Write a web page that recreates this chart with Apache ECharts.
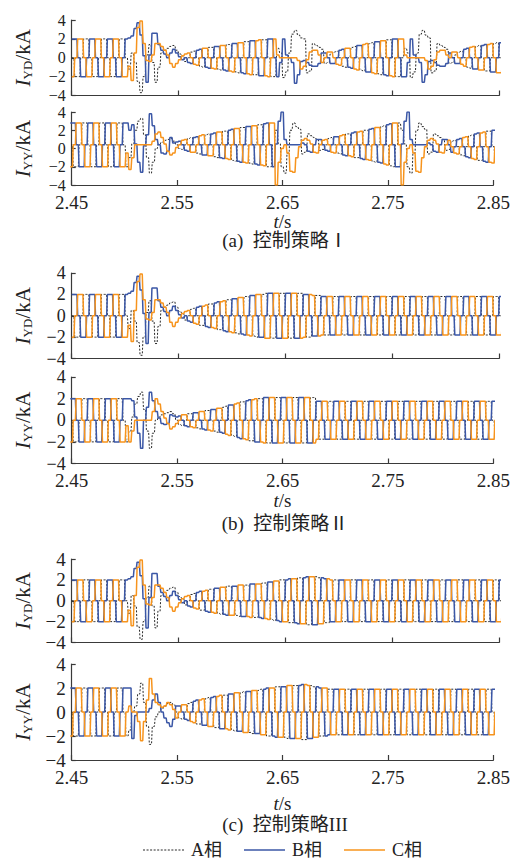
<!DOCTYPE html>
<html><head><meta charset="utf-8">
<script src="https://cdn.jsdelivr.net/npm/echarts/dist/echarts.min.js"></script>
<style>html,body{margin:0;padding:0;background:#fff}#c{width:513px;height:862px}</style>
</head><body><div id="c"></div>
<script>
const X_TICKS = ['2.45','2.55','2.65','2.75','2.85'];
const T_START = 2.45;
const SEG = 1/360;           // one 60-degree commutation interval at 60 Hz
const T0_YD = 2.4497, T0_YY = 2.4483;
const CAPTIONS = ['(a)  控制策略Ⅰ','(b)  控制策略Ⅱ','(c)  控制策略III'];
const PHASES = ['A相','B相','C相'];

// ---- (a) strategy I, Y/D valve-side currents (kA), one value per 60-degree interval ----
const a1_A=[0,-2,-2,0,2,2, 0,-2,-2,0,2,2, 0,-2,-2,0,2,2, 0,-1.2,0.5,-0.5,-2.5,-3.7, -2.0,0.3,1.4,-0.5,-2.6,-1.0, 0.5,0.8,1.0,1.2,1.3,0.8,
0.4,0.2,-0.4,0,0.6,0.7, 0,-0.9,-1,0,1.1,1.1, 0,-1.2,-1.3,0,1.4,1.4, 0,-1.5,-1.6,0,1.7,1.7, 0,-1.8,-1.8,0,1.9,1.9, 0,-2,-2,1.0,0.5,-2.1,
-1.5,0.5,2.5,2.9,2.4,2.1, 2.0,-1.6,-1.4,1.5,1.3,1.1, 0.9,-0.6,-0.5,0.4,0.6,0.7, 0,-0.9,-1,0,1.1,1.2, 0,-1.3,-1.4,0,1.5,1.6, 0,-1.7,-1.8,0,1.9,1.9,
0,-2,-2,0,1.0,0.5, -2.1,-1.5,0.5,2.5,2.9,2.4, 2.1,-1.6,-1.4,1.5,1.3,1.1, 0.9,-0.6,-0.5,0.3,0.6,0.7, 0,-1,-1.1,0,1.2,1.3, 0,-1.4,-1.4,0,1.5,1.6, 0,-1.6];
const a1_B=[2,2,0,-2,-2,0, 2,2,0,-2,-2,0, 2,2,0,-2,-2,0, 2,2.1,2.3,3.1,3.7,2.4, 0.2,-2.6,0.3,2.6,2.6,1.4, 0.8,0.4,0,0.5,0.9,0.5,
0.1,-0.2,0,-0.5,-0.6,0, 0.8,0.9,0,-1,-1.1,0, 1.2,1.2,0,-1.3,-1.4,0, 1.5,1.5,0,-1.6,-1.7,0, 1.8,1.8,0,-1.9,-1.9,0, 2,2,0,-2,-0.5,2.0,
0.3,0,-0.5,-2.7,-1.8,-0.4, -0.3,-0.5,-0.8,-0.9,-0.9,-0.6, 0.5,0.5,0,-0.6,-0.6,0, 0.8,0.9,0,-1,-1.1,0, 1.3,1.3,0,-1.5,-1.5,0, 1.7,1.7,0,-1.8,-1.9,0,
2,2,0,-2,-2.0,-0.5, 2.0,0.3,0,-0.5,-2.6,-1.8, -0.4,-0.3,-0.5,-0.8,-0.9,-0.9, -0.6,0.5,0,-0.6,-0.6,0, 0.9,1,0,-1.2,-1.2,0, 1.3,1.4,0,-1.5,-1.5,0, 1.6,1.6];
const a1_C=[-2,0,2,2,0,-2, -2,0,2,2,0,-2, -2,0,2,2,0,-2, -2,-0.9,-2.4,0.5,3.2,3.9, 1.5,-0.3,-0.4,0.3,1.5,1.5, 1.2,0.8,0.3,-0.6,-1.0,-0.6,
-0.2,0.2,0.4,0.5,0,-0.7, -0.8,0,1,1,0,-1.1, -1.2,0,1.3,1.3,0,-1.4, -1.5,0,1.6,1.6,0,-1.7, -1.8,0,1.8,1.9,0,-1.9, -2,0,2,0.3,0,0,
0,0,0,0,-0.3,-1.2, -0.9,-0.2,0.6,0.8,0.8,0.3, -0.5,0,0.6,0.6,0,-0.7, -0.8,0,1,1,0,-1.2, -1.3,0,1.4,1.5,0,-1.6, -1.7,0,1.8,1.8,0,-1.9,
-2,0,2,2,0.3,0, 0,0,0,0,0,-0.3, -1.2,-0.9,-0.2,0.6,0.8,0.8, 0.3,0,0.6,0.6,0,-0.7, -0.9,0,1.1,1.2,0,-1.3, -1.3,0,1.4,1.5,0,-1.6, -1.6,0];
// ---- (a) strategy I, Y/Y ----
const a2_A=[0.4,-2,-2,0.4,2.8,2.8, 0.4,-2,-2,0.4,2.8,2.8, 0.4,-2,-2,0.4,2.8,2.8, 0.4,-2.0,-1.0,0.5,2.0,3.0, 3.3,1.5,-1.0,-2.7,-1.5,0, 0.5,0.7,0.9,1.0,1.1,0.8,
0.4,0,-0.1,0.4,1.1,1.2, 0.4,-0.5,-0.6,0.4,1.5,1.6, 0.4,-0.9,-1.0,0.4,1.9,1.9, 0.4,-1.3,-1.4,0.4,2.3,2.3, 0.4,-1.6,-1.7,0.4,2.6,2.6, 0.4,-2.0,-2.0,0.4,2.0,0.5,
-2.0,-2.7,-0.5,2.0,2.8,2.4, 2.1,-0.6,-0.4,1.6,1.4,1.2, 1.0,-0.2,-0.1,0.4,1.1,1.2, 0.4,-0.5,-0.6,0.4,1.6,1.6, 0.4,-1.0,-1.0,0.4,2.0,2.0, 0.4,-1.4,-1.5,0.4,2.4,2.5,
0.4,-1.9,-2.0,0.4,2.8,2.0, 0.5,-2.0,-2.7,-0.5,2.0,2.8, 2.4,2.1,-0.6,-0.4,1.6,1.4, 1.2,1.0,-0.2,-0.1,0.8,0.9, 0.2,-0.7,-0.8,0.2,1.4,1.5, 0.2,-1.3,-1.3,0.2,1.9,1.9, 0.2,-1.6];
const a2_B=[2.8,2.8,0.4,-2,-2,0.4, 2.8,2.8,0.4,-2,-2,0.4, 2.8,2.8,0.4,-2,-2,0.4, 2.8,2.8,2.0,2.6,0.5,-1.5, -2.6,0.3,1.5,3.8,2.5,1.0, 0.4,-0.5,-0.6,-0.3,1.2,0.6,
0.7,0.8,0.4,-0.2,-0.3,0.4, 1.2,1.3,0.4,-0.7,-0.7,0.4, 1.6,1.7,0.4,-1.0,-1.1,0.4, 2.0,2.1,0.4,-1.4,-1.5,0.4, 2.4,2.4,0.4,-1.7,-1.8,0.4, 2.7,2.8,0.4,-2.0,0.5,3.0,
4.0,1.0,0.4,0.4,0.4,0.4, 0.4,0.6,0.4,-0.3,-0.4,0.4, 1.0,1.0,0.4,-0.2,-0.3,0.4, 1.3,1.3,0.4,-0.7,-0.8,0.4, 1.7,1.8,0.4,-1.1,-1.2,0.4, 2.1,2.2,0.4,-1.5,-1.6,0.4,
2.6,2.7,0.4,-2.0,-2.0,0.5, 3.0,4.0,1.0,0.4,0.4,0.4, 0.4,0.4,0.6,0.4,-0.3,-0.4, 0.4,1.0,1.0,0.4,-0.4,0.2, 1.0,1.1,0.2,-0.9,-1.0,0.2, 1.6,1.7,0.2,-1.4,-1.5,0.2, 2.0,2.0];
const a2_C=[-2,0.4,2.8,2.8,0.4,-2, -2,0.4,2.8,2.8,0.4,-2, -2,0.4,2.8,2.8,0.4,-2, -2,-0.5,-2.3,-1.0,0.4,0.4, 0.4,0.4,0.4,0.4,0.8,1.6, 1.8,1.2,0.5,-0.3,-0.7,-0.5,
0.1,0.4,0.9,1.0,0.4,-0.4, -0.4,0.4,1.4,1.5,0.4,-0.8, -0.8,0.4,1.8,1.8,0.4,-1.1, -1.2,0.4,2.2,2.2,0.4,-1.5, -1.6,0.4,2.5,2.5,0.4,-1.8, -1.9,0.4,2.8,2.8,-4.0,-1.5,
0.0,0.4,-0.5,-2.5,-2.6,-1.0, 0.2,0.9,1.1,0.9,0.5,-0.4, -0.5,0.4,0.9,1.0,0.4,-0.4, -0.5,0.4,1.4,1.5,0.4,-0.8, -0.9,0.4,1.8,1.9,0.4,-1.2, -1.3,0.4,2.3,2.3,0.4,-1.7,
-1.8,0.4,2.8,2.8,0.4,-4.0, -1.5,0.0,0.4,-0.5,-2.5,-2.6, -1.0,0.2,0.9,1.1,0.9,0.5, -0.4,-0.5,0.4,0.9,0.2,-0.5, -0.6,0.2,1.2,1.3,0.2,-1.1, -1.2,0.2,1.7,1.8,0.2,-1.5, -1.6,0.2];
// ---- (b) strategy II, Y/D ----
const b1_A=[0,-2,-2,0,2,2, 0,-2,-2,0,2,2, 0,-2,-2,0,2,2, 0,-1.2,0.5,-0.5,-2.5,-3.7, -2.0,0.3,1.4,-0.5,-2.6,-1.0, 0.5,0.8,1.0,1.2,1.3,0.8,
0.4,0.2,-0.4,0,0.6,0.7, 0,-0.9,-0.9,0,1.1,1.1, 0,-1.3,-1.3,0,1.5,1.5, 0,-1.6,-1.7,0,1.8,1.8, 0,-1.9,-2,0,2,2.1, 0,-2.1,-2.1,0,2.1,2.1,
0,-2.1,-2.1,0,2.1,2.1, 0,-2,-2,0,1.9,1.9, 0,-1.8,-1.8,0,1.8,1.8, 0,-1.8,-1.8,0,1.8,1.8, 0,-1.8,-1.8,0,1.8,1.8, 0,-1.8,-1.8,0,1.8,1.8,
0,-1.8,-1.8,0,1.8,1.8, 0,-1.8,-1.8,0,1.8,1.8, 0,-1.8,-1.8,0,1.8,1.8, 0,-1.8,-1.8,0,1.8,1.8, 0,-1.8,-1.8,0,1.8,1.8, 0,-1.8,-1.8,0,1.8,1.8, 0,-1.8];
const b1_B=[2,2,0,-2,-2,0, 2,2,0,-2,-2,0, 2,2,0,-2,-2,0, 2,2.1,2.3,3.1,3.7,2.4, 0.2,-2.6,0.3,2.6,2.6,1.4, 0.8,0.4,0,0.5,0.9,0.5,
0.1,-0.2,0,-0.5,-0.6,0, 0.8,0.9,0,-1.0,-1.1,0, 1.2,1.3,0,-1.4,-1.5,0, 1.6,1.6,0,-1.7,-1.8,0, 1.9,1.9,0,-2,-2,0, 2.1,2.1,0,-2.1,-2.1,0,
2.1,2.1,0,-2.1,-2.1,0, 2,2,0,-1.9,-1.9,0, 1.8,1.8,0,-1.8,-1.8,0, 1.8,1.8,0,-1.8,-1.8,0, 1.8,1.8,0,-1.8,-1.8,0, 1.8,1.8,0,-1.8,-1.8,0,
1.8,1.8,0,-1.8,-1.8,0, 1.8,1.8,0,-1.8,-1.8,0, 1.8,1.8,0,-1.8,-1.8,0, 1.8,1.8,0,-1.8,-1.8,0, 1.8,1.8,0,-1.8,-1.8,0, 1.8,1.8,0,-1.8,-1.8,0, 1.8,1.8];
const b1_C=[-2,0,2,2,0,-2, -2,0,2,2,0,-2, -2,0,2,2,0,-2, -2,-0.9,-2.4,0.5,3.2,3.9, 1.5,-0.3,-0.4,0.3,1.5,1.5, 1.2,0.8,0.3,-0.6,-1.0,-0.6,
-0.2,0.2,0.4,0.5,0,-0.7, -0.8,0,0.9,1.0,0,-1.1, -1.2,0,1.3,1.4,0,-1.5, -1.6,0,1.7,1.7,0,-1.8, -1.9,0,2,2,0,-2.1, -2.1,0,2.1,2.1,0,-2.1,
-2.1,0,2.1,2.1,0,-2.1, -2,0,2,1.9,0,-1.9, -1.8,0,1.8,1.8,0,-1.8, -1.8,0,1.8,1.8,0,-1.8, -1.8,0,1.8,1.8,0,-1.8, -1.8,0,1.8,1.8,0,-1.8,
-1.8,0,1.8,1.8,0,-1.8, -1.8,0,1.8,1.8,0,-1.8, -1.8,0,1.8,1.8,0,-1.8, -1.8,0,1.8,1.8,0,-1.8, -1.8,0,1.8,1.8,0,-1.8, -1.8,0,1.8,1.8,0,-1.8, -1.8,0];
// ---- (b) strategy II, Y/Y ----
const b2_A=[0,-2,-2,0,2,2, 0,-2,-2,0,2,2, 0,-2,-2,0,2,2, 0,-2.0,-1.0,0.3,1.5,2.2, 2.6,1.0,-1.0,-2.6,-1.2,0, 0.3,0.5,0.6,0.7,0.8,0.6,
0,-0.4,-0.5,0,0.6,0.6, 0,-0.7,-0.8,0,0.9,0.9, 0,-1,-1.1,0,1.2,1.3, 0,-1.4,-1.5,0,1.7,1.7, 0,-1.9,-1.9,0,2,2, 0,-2.1,-2.1,0,2.1,2.1,
0,-2.1,-2.1,0,2.1,2.1, 0,-2.1,-2.1,0,2.1,2.1, 0,-1.75,-1.75,0,1.75,1.75, 0,-1.75,-1.75,0,1.75,1.75, 0,-1.75,-1.75,0,1.75,1.75, 0,-1.75,-1.75,0,1.75,1.75,
0,-1.75,-1.75,0,1.75,1.75, 0,-1.75,-1.75,0,1.75,1.75, 0,-1.75,-1.75,0,1.75,1.75, 0,-1.75,-1.75,0,1.75,1.75, 0,-1.75,-1.75,0,1.75,1.75, 0,-1.75,-1.75,0,1.75,1.75, 0,-1.75];
const b2_B=[2,2,0,-2,-2,0, 2,2,0,-2,-2,0, 2,2,0,-2,-2,0, 2,2.0,2.0,1.8,0.3,-1.2, -2.6,0,1.2,2.6,1.8,0.8, 0.2,-0.3,-0.4,-0.3,0.5,0.4,
0.3,0.4,0,-0.5,-0.6,0, 0.7,0.7,0,-0.8,-0.9,0, 1,1,0,-1.1,-1.2,0, 1.4,1.4,0,-1.6,-1.7,0, 1.8,1.9,0,-2,-2,0, 2.1,2.1,0,-2.1,-2.1,0,
2.1,2.1,0,-2.1,-2.1,0, 2.1,2.1,0,-2.1,-2.1,0, 1.75,1.75,0,-1.75,-1.75,0, 1.75,1.75,0,-1.75,-1.75,0, 1.75,1.75,0,-1.75,-1.75,0, 1.75,1.75,0,-1.75,-1.75,0,
1.75,1.75,0,-1.75,-1.75,0, 1.75,1.75,0,-1.75,-1.75,0, 1.75,1.75,0,-1.75,-1.75,0, 1.75,1.75,0,-1.75,-1.75,0, 1.75,1.75,0,-1.75,-1.75,0, 1.75,1.75,0,-1.75,-1.75,0, 1.75,1.75];
const b2_C=[-2,0,2,2,0,-2, -2,0,2,2,0,-2, -2,0,2,2,0,-2, -2,-0.5,-2.0,-1.0,0,0, 0,0,0,0,0.8,2.0, 1.5,0.8,0.2,-0.3,-0.8,-0.6,
-0.3,0,0.5,0.5,0,-0.6, -0.7,0,0.8,0.8,0,-0.9, -1,0,1.1,1.1,0,-1.3, -1.4,0,1.5,1.6,0,-1.7, -1.8,0,1.9,2,0,-2, -2.1,0,2.1,2.1,0,-2.1,
-2.1,0,2.1,2.1,0,-2.1, -2.1,0,2.1,2.1,0,-2.1, -1.75,0,1.75,1.75,0,-1.75, -1.75,0,1.75,1.75,0,-1.75, -1.75,0,1.75,1.75,0,-1.75, -1.75,0,1.75,1.75,0,-1.75,
-1.75,0,1.75,1.75,0,-1.75, -1.75,0,1.75,1.75,0,-1.75, -1.75,0,1.75,1.75,0,-1.75, -1.75,0,1.75,1.75,0,-1.75, -1.75,0,1.75,1.75,0,-1.75, -1.75,0,1.75,1.75,0,-1.75, -1.75,0];
// ---- (c) strategy III, Y/D ----
const c1_A=[0,-2,-2,0,2,2, 0,-2,-2,0,2,2, 0,-2,-2,0,2,2, 0,-1.2,0.5,-0.5,-2.5,-3.7, -2.0,0.3,1.4,-0.5,-2.6,-1.0, 0.5,0.8,1.0,1.2,1.3,0.8,
0.4,0.2,-0.4,0,0.6,0.7, 0,-0.9,-0.9,0,1.1,1.1, 0,-1.2,-1.3,0,1.4,1.4, 0,-1.4,-1.5,0,1.5,1.5, 0,-1.6,-1.6,0,1.7,1.7, 0,-1.8,-1.9,0,2.0,2.0,
0,-2.1,-2.1,0,2.2,2.2, 0,-2.3,-2.3,0,2.3,2.2, 0,-2.1,-2.1,0,2.0,2.0, 0,-2,-2,0,2,2, 0,-2,-2,0,2,2, 0,-2,-2,0,2,2,
0,-2,-2,0,2,2, 0,-2,-2,0,2,2, 0,-2,-2,0,2,2, 0,-2,-2,0,2,2, 0,-2,-2,0,2,2, 0,-2,-2,0,2,2, 0,-2];
const c1_B=[2,2,0,-2,-2,0, 2,2,0,-2,-2,0, 2,2,0,-2,-2,0, 2,2.1,2.3,3.1,3.7,2.4, 0.2,-2.6,0.3,2.6,2.6,1.4, 0.8,0.4,0,0.5,0.9,0.5,
0.1,-0.2,0,-0.5,-0.6,0, 0.8,0.9,0,-1.0,-1.1,0, 1.2,1.2,0,-1.3,-1.4,0, 1.4,1.4,0,-1.5,-1.5,0, 1.6,1.6,0,-1.6,-1.7,0, 1.8,1.8,0,-1.9,-2.0,0,
2.0,2.1,0,-2.1,-2.2,0, 2.2,2.3,0,-2.3,-2.3,0, 2.2,2.1,0,-2.0,-2.0,0, 2,2,0,-2,-2,0, 2,2,0,-2,-2,0, 2,2,0,-2,-2,0,
2,2,0,-2,-2,0, 2,2,0,-2,-2,0, 2,2,0,-2,-2,0, 2,2,0,-2,-2,0, 2,2,0,-2,-2,0, 2,2,0,-2,-2,0, 2,2];
const c1_C=[-2,0,2,2,0,-2, -2,0,2,2,0,-2, -2,0,2,2,0,-2, -2,-0.9,-2.4,0.5,3.2,3.9, 1.5,-0.3,-0.4,0.3,1.5,1.5, 1.2,0.8,0.3,-0.6,-1.0,-0.6,
-0.2,0.2,0.4,0.5,0,-0.7, -0.8,0,0.9,1.0,0,-1.1, -1.2,0,1.3,1.3,0,-1.4, -1.4,0,1.5,1.5,0,-1.5, -1.6,0,1.6,1.6,0,-1.7, -1.8,0,1.9,1.9,0,-2.0,
-2.0,0,2.1,2.1,0,-2.2, -2.2,0,2.3,2.3,0,-2.2, -2.2,0,2.1,2.0,0,-2.0, -2,0,2,2,0,-2, -2,0,2,2,0,-2, -2,0,2,2,0,-2,
-2,0,2,2,0,-2, -2,0,2,2,0,-2, -2,0,2,2,0,-2, -2,0,2,2,0,-2, -2,0,2,2,0,-2, -2,0,2,2,0,-2, -2,0];
// ---- (c) strategy III, Y/Y ----
const c2_A=[0,-2,-2,0,2,2, 0,-2,-2,0,2,2, 0,-2,-2,0,2,2, 0,-2,-1.5,0,0.5,1.5, 2.4,0.8,-1.2,-2.7,-1.2,-0.4, 0,0.3,0.5,0.7,0.8,0.6,
0,-0.5,-0.6,0,0.7,0.8, 0,-1,-1,0,1.1,1.2, 0,-1.3,-1.3,0,1.4,1.4, 0,-1.5,-1.6,0,1.6,1.7, 0,-1.7,-1.8,0,1.8,1.9, 0,-2,-2,0,2.1,2.1,
0,-2.1,-2.2,0,2.2,2.2, 0,-2.3,-2.3,0,2.2,2.1, 0,-2,-2,0,1.9,1.9, 0,-1.9,-1.9,0,1.9,1.9, 0,-1.9,-1.9,0,1.9,1.9, 0,-1.9,-1.9,0,1.9,1.9,
0,-1.9,-1.9,0,1.9,1.9, 0,-1.9,-1.9,0,1.9,1.9, 0,-1.9,-1.9,0,1.9,1.9, 0,-1.9,-1.9,0,1.9,1.9, 0,-1.9,-1.9,0,1.9,1.9, 0,-1.9,-1.9,0,1.9,1.9, 0,-1.9];
const c2_B=[2,2,0,-2,-2,0, 2,2,0,-2,-2,0, 2,2,0,-2,-2,0, 2,2,2.0,-2.2,-0.3,0, 0,0,0,0.3,1.0,1.5, 0.8,0,-0.5,-0.9,-1.2,-0.6,
0.5,0.5,0,-0.6,-0.7,0, 0.9,1,0,-1.1,-1.1,0, 1.2,1.3,0,-1.4,-1.4,0, 1.5,1.5,0,-1.6,-1.6,0, 1.7,1.7,0,-1.8,-1.8,0, 1.9,2,0,-2,-2.1,0,
2.1,2.1,0,-2.2,-2.2,0, 2.2,2.3,0,-2.2,-2.2,0, 2.1,2,0,-2,-1.9,0, 1.9,1.9,0,-1.9,-1.9,0, 1.9,1.9,0,-1.9,-1.9,0, 1.9,1.9,0,-1.9,-1.9,0,
1.9,1.9,0,-1.9,-1.9,0, 1.9,1.9,0,-1.9,-1.9,0, 1.9,1.9,0,-1.9,-1.9,0, 1.9,1.9,0,-1.9,-1.9,0, 1.9,1.9,0,-1.9,-1.9,0, 1.9,1.9,0,-1.9,-1.9,0, 1.9,1.9];
const c2_C=[-2,0,2,2,0,-2, -2,0,2,2,0,-2, -2,0,2,2,0,-2, -2,0,0.5,0,0,-0.8, -2.4,-0.8,1.0,2.8,1.5,0.8, 0.6,0.4,0.5,0.8,0.6,0.2,
-0.5,0,0.6,0.6,0,-0.8, -0.9,0,1,1.1,0,-1.2, -1.2,0,1.3,1.4,0,-1.4, -1.5,0,1.6,1.6,0,-1.7, -1.7,0,1.8,1.8,0,-1.9, -1.9,0,2,2,0,-2.1,
-2.1,0,2.2,2.2,0,-2.2, -2.2,0,2.3,2.2,0,-2.1, -2.1,0,2,2,0,-1.9, -1.9,0,1.9,1.9,0,-1.9, -1.9,0,1.9,1.9,0,-1.9, -1.9,0,1.9,1.9,0,-1.9,
-1.9,0,1.9,1.9,0,-1.9, -1.9,0,1.9,1.9,0,-1.9, -1.9,0,1.9,1.9,0,-1.9, -1.9,0,1.9,1.9,0,-1.9, -1.9,0,1.9,1.9,0,-1.9, -1.9,0,1.9,1.9,0,-1.9, -1.9,0];

const FONT = '"Liberation Serif","Times New Roman",serif';
const CJK = '"Liberation Serif","Noto Sans CJK SC",serif';
const COL = {A:'#2a2a2a', B:'#3b57a6', C:'#f7941d'};
const AXC = '#3a3a3a';
const RAMP = 0.00035;

const PANELS = [
  {top:20,  h:75.5, A:a1_A,B:a1_B,C:a1_C,t0:T0_YD,sub:'YD',lab:false, yfs:16},
  {top:112, h:73,   A:a2_A,B:a2_B,C:a2_C,t0:T0_YY,sub:'YY',lab:true, gap:29, yfs:16},
  {top:273, h:85.5, A:b1_A,B:b1_B,C:b1_C,t0:T0_YD,sub:'YD',lab:false, yfs:18},
  {top:377, h:86.5, A:b2_A,B:b2_B,C:b2_C,t0:T0_YY,sub:'YY',lab:true, gap:29.5, yfs:18},
  {top:559, h:83.5, A:c1_A,B:c1_B,C:c1_C,t0:T0_YD,sub:'YD',lab:false, yfs:19},
  {top:664, h:96,   A:c2_A,B:c2_B,C:c2_C,t0:T0_YY,sub:'YY',lab:true, gap:36, yfs:19}
];
const CAP_Y = [231, 514, 815];

function toPts(vals, t0){
  const p=[];
  for(let k=0;k<vals.length;k++){
    const s=t0+k*SEG-T_START, e=s+SEG;
    p.push([s+RAMP, vals[k]], [e-RAMP, vals[k]]);
  }
  return p;
}

const grid=[], xAxis=[], yAxis=[], series=[];
PANELS.forEach((P,i)=>{
  grid.push({left:71.7, width:427.6, top:P.top, height:P.h});
  xAxis.push({type:'value', gridIndex:i, min:0, max:0.4, interval:0.1,
    axisLine:{show:true, onZero:false, lineStyle:{color:AXC, width:1.2}},
    axisTick:{show:true, inside:true, length:5, lineStyle:{color:AXC, width:1.2}},
    splitLine:{show:false},
    axisLabel:{show:P.lab, margin:10, color:'#222', fontFamily:FONT, fontSize:19, lineHeight:14,
      showMinLabel:true, showMaxLabel:true, hideOverlap:false,
      formatter:v=>X_TICKS[Math.round(v*10)]},
    name:P.lab?'{i|t}/s':'', nameLocation:'middle', nameGap:P.gap||30, nameMoveOverlap:false,
    nameTextStyle:{color:'#222', fontFamily:FONT, fontSize:19, lineHeight:14,
      rich:{i:{fontStyle:'italic', fontFamily:FONT, fontSize:19, lineHeight:14, color:'#222'}}}
  });
  yAxis.push({type:'value', gridIndex:i, min:-4, max:4, interval:2,
    axisLine:{show:true, lineStyle:{color:AXC, width:1.2}},
    axisTick:{show:true, inside:true, length:4, lineStyle:{color:AXC, width:1.2}},
    splitLine:{show:false},
    axisLabel:{color:'#222', fontFamily:FONT, fontSize:P.yfs, lineHeight:12, margin:6, interval:0,
      showMinLabel:true, showMaxLabel:true, hideOverlap:false,
      formatter:v=>v<0?'\u2212'+Math.abs(v):String(v)},
    name:'{i|I}{s|'+P.sub+'}{n|/kA}', nameLocation:'middle', nameGap:38, nameRotate:90, nameMoveOverlap:false,
    nameTextStyle:{color:'#222', fontFamily:FONT, fontSize:20,
      rich:{i:{fontStyle:'italic', fontFamily:FONT, fontSize:21, color:'#222'},
            s:{fontFamily:FONT, fontSize:13, color:'#222', verticalAlign:'bottom', padding:[6,0,0,0]},
            n:{fontFamily:FONT, fontSize:21, color:'#222'}}}
  });
  [['A',P.A],['B',P.B],['C',P.C]].forEach(([ph,vals],j)=>{
    series.push({type:'line', name:PHASES[j], xAxisIndex:i, yAxisIndex:i,
      data:toPts(vals,P.t0), symbol:'none', showSymbol:false, clip:true, animation:false,
      z: 2+j,
      lineStyle:{color:COL[ph], width: ph==='A'?1:1.5, type: ph==='A'?[2,1.6]:'solid'},
      itemStyle:{color:COL[ph]}});
  });
});

const graphic = CAPTIONS.map((t,i)=>({type:'text', x:285, y:CAP_Y[i],
  style:{text:t, font:'19px '+CJK, fill:'#222', textAlign:'center'}}));

const DOT_ICON='path://M0,0h2v1h-2zM3.5,0h2v1h-2zM7,0h2v1h-2zM10.5,0h2v1h-2zM14,0h2v1h-2zM17.5,0h2v1h-2zM21,0h2v1h-2zM24.5,0h2v1h-2zM28,0h2v1h-2zM31.5,0h2v1h-2zM35,0h2v1h-2zM38.5,0h2v1h-2z';

const chart = echarts.init(document.getElementById('c'), null, {renderer:'svg'});
chart.setOption({
  backgroundColor:'#fff', animation:false,
  grid, xAxis, yAxis, series, graphic,
  legend:{data:[{name:'A相',icon:DOT_ICON},{name:'B相',icon:'rect'},{name:'C相',icon:'rect'}],
    left:143, top:841, itemWidth:41, itemHeight:1.5, itemGap:22, padding:0,
    textStyle:{fontFamily:CJK, fontSize:18, color:'#222', padding:[0,0,0,2]}}
});
</script></body></html>
